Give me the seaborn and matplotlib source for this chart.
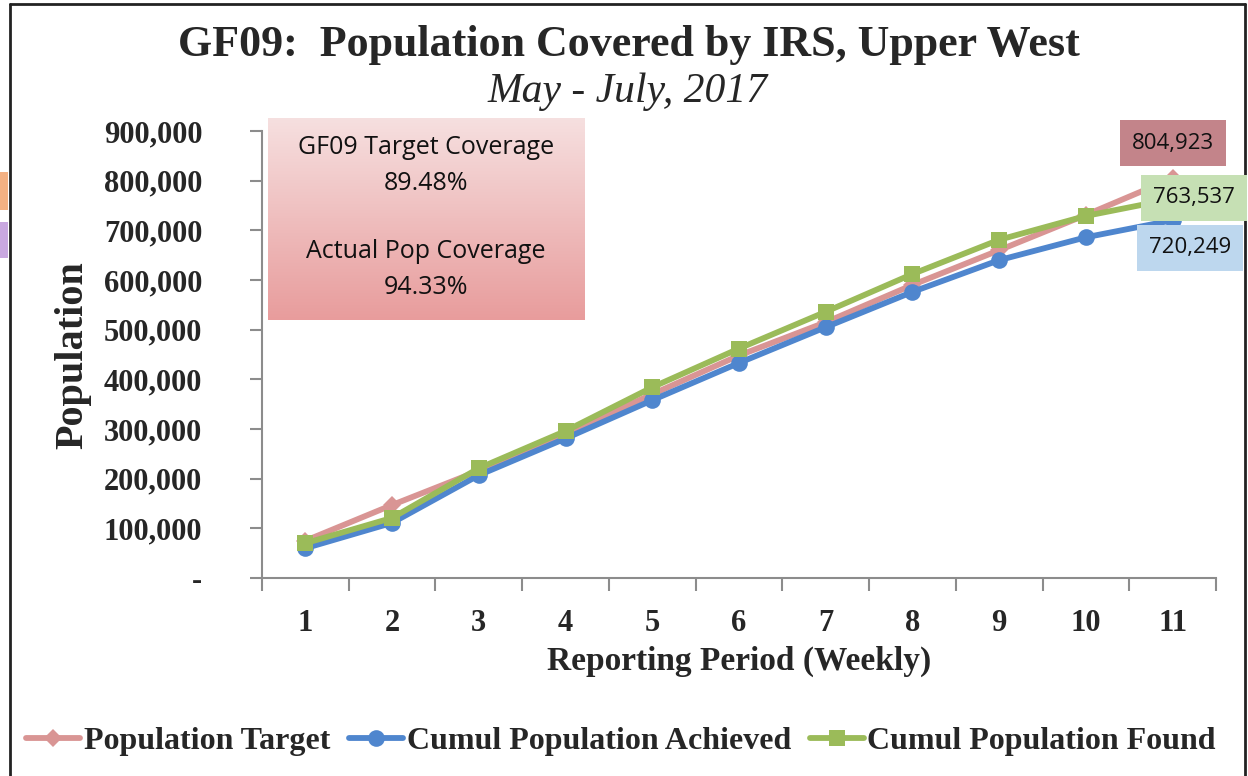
import numpy as np
import pandas as pd
import matplotlib
matplotlib.use("Agg")
import matplotlib.pyplot as plt
import seaborn as sns
from matplotlib.lines import Line2D
from matplotlib.patches import Rectangle

# chart values
weeks = [1, 2, 3, 4, 5, 6, 7, 8, 9, 10, 11]
target = [75000, 147000, 216000, 290000, 370000, 448000, 515000, 590000, 660000, 731000, 804923]
achieved = [60000, 111000, 207000, 281000, 358000, 433000, 505000, 576000, 640000, 686000, 720249]
found = [70000, 121000, 221000, 296000, 384000, 462000, 536000, 612000, 681000, 729000, 763537]
series_names = ["Population Target", "Cumul Population Achieved", "Cumul Population Found"]
y_ticks = [0, 100000, 200000, 300000, 400000, 500000, 600000, 700000, 800000, 900000]

df = pd.DataFrame({
    "week": weeks * 3,
    "value": target + achieved + found,
    "series": [series_names[0]] * 11 + [series_names[1]] * 11 + [series_names[2]] * 11,
})

colors = {series_names[0]: "#D99594", series_names[1]: "#4F86CE", series_names[2]: "#9BBB59"}
markers = {series_names[0]: "D", series_names[1]: "o", series_names[2]: "s"}
msizes = {series_names[0]: 9, series_names[1]: 12, series_names[2]: 11.5}

sns.set_style("white")
serif = ["Liberation Serif", "DejaVu Serif"]
sans = ["Open Sans", "DejaVu Sans"]

fig = plt.figure(figsize=(12.48, 7.76), dpi=100)
ax = fig.add_axes([262 / 1248, 1 - 578 / 776, (1216 - 262) / 1248, (578 - 131) / 776])

for name in series_names:
    sub = df[df["series"] == name]
    sns.lineplot(data=sub, x="week", y="value", ax=ax, color=colors[name],
                 marker=markers[name], markersize=msizes[name], markeredgewidth=0,
                 linewidth=4.2, label=name, legend=False)

ax.set_xlim(0.5, 11.5)
ax.set_ylim(0, 900000)

# y axis
ax.set_yticks(y_ticks)
ax.set_yticklabels(["-"] + [f"{v:,}" for v in y_ticks[1:]])
for lab in ax.get_yticklabels():
    lab.set_fontfamily(serif)
    lab.set_fontweight("bold")
    lab.set_fontsize(22)

# x axis: tick marks at the boundaries, labels centred in between
ax.set_xticks(np.arange(0.5, 12, 1))
ax.set_xticklabels([])
ax.set_xticks(weeks, minor=True)
ax.set_xticklabels([str(w) for w in weeks], minor=True, fontfamily=serif,
                   fontweight="bold", fontsize=22)
ax.tick_params(axis="x", which="minor", bottom=False, length=0, pad=22)
ax.tick_params(axis="x", which="major", bottom=True, length=9, width=1.5, color="#8C8C8C", direction="out")
ax.tick_params(axis="y", left=True, length=9, width=1.5, color="#8C8C8C", direction="out", pad=34)

for s in ["top", "right"]:
    ax.spines[s].set_visible(False)
for s in ["left", "bottom"]:
    ax.spines[s].set_color("#8C8C8C")
    ax.spines[s].set_linewidth(1.5)

ax.set_xlabel("Reporting Period (Weekly)", fontfamily=serif, fontweight="bold", fontsize=24)
ax.xaxis.set_label_coords((739 - 262) / 954, -(646 - 578) / 447)
ax.set_ylabel("Population", fontfamily=serif, fontweight="bold", fontsize=29)
ax.yaxis.set_label_coords(-(262 - 91) / 954, (578 - 355) / 447)

# titles
fig.text(629 / 1248, 1 - 45 / 776, "GF09:  Population Covered by IRS, Upper West", ha="center",
         va="center", fontfamily=serif, fontweight="bold", fontsize=31.7)
fig.text(628 / 1248, 1 - 92 / 776, "May - July, 2017", ha="center", va="center",
         fontfamily=serif, fontstyle="italic", fontsize=30)

# gradient coverage box
bax = fig.add_axes([268 / 1248, 1 - 320 / 776, 317 / 1248, 202 / 776])
top_c = np.array(matplotlib.colors.to_rgb("#F6E0E0"))
bot_c = np.array(matplotlib.colors.to_rgb("#E89C9C"))
t = np.linspace(0, 1, 256)[:, None, None]
grad = top_c * (1 - t) + bot_c * t
bax.imshow(np.repeat(grad, 2, axis=1), aspect="auto", extent=[0, 1, 0, 1])
bax.axis("off")
for txt, yy in [("GF09 Target Coverage", 147), ("89.48%", 184),
                ("Actual Pop Coverage", 252), ("94.33%", 288)]:
    fig.text(426 / 1248, 1 - yy / 776, txt, ha="center", va="center",
             fontfamily=sans, fontsize=18, color="#111111")

# end-point data labels
end_labels = [(target[-1], 1173, 143, "#C3848A"),
              (found[-1], 1194, 198, "#C6E0B4"),
              (achieved[-1], 1190, 248, "#BDD7EE")]
for val, xx, yy, fc in end_labels:
    fig.text(xx / 1248, 1 - yy / 776, f"{val:,}", ha="center", va="center",
             fontfamily=sans, fontsize=16, color="#111111",
             bbox=dict(boxstyle="square,pad=0.55", fc=fc, ec="none"))

# legend
handles = [Line2D([], [], color=colors[n], marker=markers[n], markersize=msizes[n],
                  markeredgewidth=0, linewidth=4.2) for n in series_names]
fig.legend(handles, series_names, loc="center", bbox_to_anchor=(621 / 1248, 1 - 741 / 776),
           ncol=3, frameon=False, handlelength=1.7, handletextpad=0.1, columnspacing=0.6,
           borderaxespad=0, borderpad=0,
           prop={"family": serif, "weight": "bold", "size": 23})

# outer chart border and the clipped neighbours on the left edge
fig.add_artist(Line2D([10 / 1248, 10 / 1248], [0, 1 - 4 / 776], color="#222222", lw=2))
fig.add_artist(Line2D([10 / 1248, 1245 / 1248], [1 - 4 / 776, 1 - 4 / 776], color="#222222", lw=2))
fig.add_artist(Line2D([1245 / 1248, 1245 / 1248], [0, 1 - 4 / 776], color="#222222", lw=2))
fig.add_artist(Rectangle((0, 1 - 210 / 776), 8 / 1248, 38 / 776, transform=fig.transFigure,
                         fc="#F4B183", ec="none"))
fig.add_artist(Rectangle((0, 1 - 258 / 776), 8 / 1248, 36 / 776, transform=fig.transFigure,
                         fc="#C9A8E0", ec="none"))

fig.savefig("out.png", dpi=100)
